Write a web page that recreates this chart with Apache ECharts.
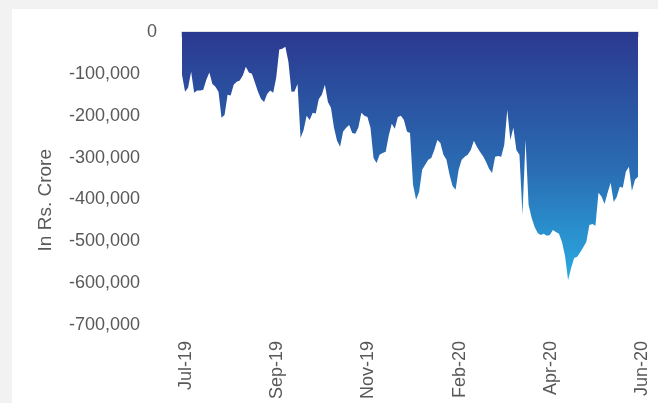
<!DOCTYPE html>
<html>
<head>
<meta charset="utf-8">
<script src="https://cdn.jsdelivr.net/npm/echarts@6/dist/echarts.min.js"></script>
<style>
  html, body { margin: 0; padding: 0; background: #f2f2f2; width: 658px; height: 403px; overflow: hidden; }
  #chart { position: absolute; left: 12px; top: 9px; width: 646px; height: 394px; background: #ffffff; }
</style>
</head>
<body>
<div id="chart"></div>
<script>
// Tick labels shown on the category axis (one every `labelEvery` observations)
const tickLabels = ['Jul-19', 'Sep-19', 'Nov-19', 'Feb-20', 'Apr-20', 'Jun-20'];
const labelEvery = 30;

// Net liquidity position (Rs. crore)
const values = [
  -102000, -143000, -133000, -95000, -145000, -140000, -140000, -138000, -114000, -97000,
  -124000, -131000, -143000, -205000, -198000, -150000, -152000, -126000, -119000, -116000,
  -104000, -83000, -97000, -100000, -121000, -143000, -160000, -167000, -148000, -140000,
  -145000, -109000, -42000, -40000, -35000, -71000, -143000, -142000, -124000, -253000,
  -234000, -200000, -210000, -193000, -195000, -160000, -150000, -126000, -167000, -181000,
  -229000, -260000, -274000, -238000, -229000, -222000, -241000, -243000, -229000, -193000,
  -200000, -203000, -229000, -301000, -313000, -293000, -289000, -286000, -248000, -219000,
  -231000, -203000, -200000, -210000, -238000, -241000, -365000, -401000, -382000, -329000,
  -317000, -305000, -301000, -282000, -258000, -265000, -293000, -305000, -341000, -368000,
  -377000, -329000, -305000, -298000, -293000, -282000, -260000, -274000, -286000, -296000,
  -310000, -327000, -337000, -298000, -296000, -298000, -270000, -186000, -258000, -229000,
  -282000, -293000, -437000, -258000, -413000, -444000, -466000, -480000, -485000, -482000,
  -487000, -485000, -473000, -478000, -482000, -502000, -535000, -593000, -564000, -540000,
  -537000, -526000, -514000, -502000, -461000, -459000, -463000, -384000, -393000, -411000,
  -384000, -360000, -406000, -394000, -370000, -372000, -334000, -322000, -380000, -353000,
  -346000
];

// Category axis entries: one per observation
const categories = values.map((v, i) => String(i));

const FONT = "'Liberation Sans', Arial, Helvetica, sans-serif";
const TXT = '#595959';

function fmtNum(v) {
  const s = Math.abs(v).toString().replace(/\B(?=(\d{3})+(?!\d))/g, ',');
  return (v < 0 ? '-' : '') + s;
}

const chart = echarts.init(document.getElementById('chart'), null, { renderer: 'canvas' });

chart.setOption({
  animation: false,
  backgroundColor: '#ffffff',
  grid: { left: 170, right: 20, top: 23, bottom: 78, containLabel: false },
  graphic: [{
    type: 'text',
    left: 24,
    top: 140,
    rotation: Math.PI / 2,
    style: { text: 'In Rs. Crore', font: "19px " + FONT, fill: TXT }
  }],
  xAxis: [{
    type: 'category',
    data: categories,
    boundaryGap: false,
    position: 'top',
    axisLine: { onZero: false, lineStyle: { color: '#d9d9d9', width: 1.5 } },
    axisTick: { inside: true, length: 5, interval: labelEvery - 1, lineStyle: { color: '#c8c8c8', width: 1.5 } },
    axisLabel: { show: false },
    splitLine: { show: false }
  }, {
    type: 'category',
    data: categories,
    boundaryGap: false,
    position: 'bottom',
    axisLine: { show: false, onZero: false },
    axisTick: { show: false },
    splitLine: { show: false },
    axisLabel: {
      interval: labelEvery - 1,
      rotate: 90,
      margin: 16,
      color: TXT,
      fontSize: 18,
      fontFamily: FONT,
      formatter: function (v, idx) {
        const k = Math.round(idx / labelEvery);
        return (idx % labelEvery === 0 && tickLabels[k]) ? '{t|' + tickLabels[k] + '}' : '';
      },
      rich: {
        t: { color: TXT, fontSize: 18, fontFamily: FONT, padding: [8, 0, 0, 0] }
      }
    }
  }],
  yAxis: {
    type: 'value',
    min: -700000,
    max: 0,
    interval: 100000,
    axisLine: { show: false },
    axisTick: { show: false },
    splitLine: { show: false },
    axisLabel: {
      margin: 25,
      color: TXT,
      fontSize: 18,
      fontFamily: FONT,
      formatter: function (v) {
        return v === 0 ? '{z|0}' : '{n|' + fmtNum(v) + '}';
      },
      rich: {
        z: { color: TXT, fontSize: 18, fontFamily: FONT },
        n: { color: TXT, fontSize: 18, fontFamily: FONT, padding: [0, 17, 0, 0] }
      }
    }
  },
  series: [{
    type: 'line',
    data: values,
    xAxisIndex: 0,
    showSymbol: false,
    symbol: 'none',
    lineStyle: { width: 0 },
    areaStyle: {
      origin: 'end',
      opacity: 1,
      color: new echarts.graphic.LinearGradient(0, 0, 0, 1, [
        { offset: 0, color: '#2B3990' },
        { offset: 0.55, color: '#2A6CB3' },
        { offset: 1, color: '#29ABE2' }
      ])
    }
  }]
});
</script>
</body>
</html>
